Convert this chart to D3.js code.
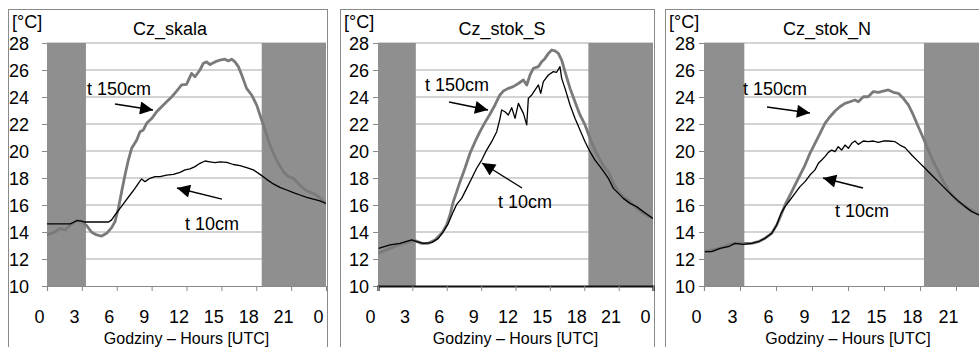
<!DOCTYPE html>
<html>
<head>
<meta charset="utf-8">
<script src="https://cdn.jsdelivr.net/npm/d3@7"></script>
<style>
  html, body { margin: 0; padding: 0; background: #fff; }
  svg { display: block; }
  text { font-family: "Liberation Sans", Arial, sans-serif; fill: #000; }
</style>
</head>
<body>
<svg id="chart" width="979" height="347"></svg>
<script>
// Air temperature at 150 cm and 10 cm, three sites, one day (hour UTC, °C)
const panelTitles = ["Cz_skala", "Cz_stok_S", "Cz_stok_N"];
const xTickValues = [0, 3, 6, 9, 12, 15, 18, 21, 24];
const xTickLabels = ["0", "3", "6", "9", "12", "15", "18", "21", "0"];
const yTickValues = [10, 12, 14, 16, 18, 20, 22, 24, 26, 28];
const xAxisTitle = "Godziny \u2013 Hours [UTC]";
const unitLabel = "[\u00b0C]";
const seriesLabels = ["t 150cm", "t 10cm"];

// night (before sunrise / after sunset) intervals, hours
const nightSkala = [[0, 3.35], [18.47, 24]];
const nightStokS = [[0, 3.3], [18.36, 24]];
const nightStokN = [[0, 3.36], [18.33, 24]];

const skalaT150 = [
  [0, 13.8], [0.69, 14.0], [1.12, 14.27], [1.55, 14.15], [1.98, 14.5], [2.55, 14.86],
  [2.98, 14.77], [3.41, 14.47], [3.84, 13.98], [4.27, 13.78], [4.7, 13.7], [5.13, 13.9],
  [5.56, 14.32], [5.85, 14.77], [6.14, 15.75], [6.42, 16.99], [6.71, 18.22], [7.0, 19.33],
  [7.28, 20.2], [7.71, 20.8], [8.0, 21.43], [8.29, 21.56], [8.57, 22.05], [9.0, 22.4],
  [9.43, 22.9], [9.86, 23.28], [10.29, 23.65], [10.72, 24.0], [11.15, 24.44], [11.58, 24.9],
  [12.0, 24.94], [12.44, 25.75], [12.73, 25.5], [13.16, 26.0], [13.45, 26.5], [13.73, 26.6],
  [14.02, 26.4], [14.45, 26.6], [14.88, 26.74], [15.31, 26.8], [15.6, 26.67], [15.88, 26.8],
  [16.17, 26.6], [16.46, 26.25], [16.75, 25.63], [17.17, 24.64], [17.6, 24.15], [18.04, 23.4],
  [18.32, 22.67], [18.61, 21.93], [18.9, 21.19], [19.18, 20.44], [19.47, 19.83], [19.9, 19.09],
  [20.33, 18.47], [20.76, 18.1], [21.19, 17.98], [21.62, 17.6], [22.05, 17.23], [22.48, 16.99],
  [22.91, 16.86], [23.34, 16.62], [23.77, 16.3], [24, 16.12]
];
const skalaT10 = [
  [0, 14.6], [2.0, 14.6], [2.6, 14.85], [3.0, 14.8], [3.2, 14.74], [5.3, 14.74],
  [5.56, 14.9], [5.85, 15.26], [6.28, 15.75], [6.71, 16.25], [7.14, 16.74], [7.57, 17.23],
  [7.86, 17.6], [8.14, 17.93], [8.43, 17.73], [8.86, 17.98], [9.29, 18.1], [9.72, 18.1],
  [10.29, 18.22], [10.87, 18.27], [11.44, 18.42], [11.87, 18.6], [12.3, 18.67], [12.73, 18.84],
  [13.16, 19.09], [13.59, 19.26], [14.02, 19.2], [14.45, 19.14], [14.88, 19.2], [15.45, 19.16],
  [16.03, 19.0], [16.6, 18.91], [17.17, 18.77], [17.75, 18.6], [18.32, 18.27], [18.9, 17.9],
  [19.47, 17.56], [20.04, 17.31], [20.62, 17.11], [21.19, 16.91], [21.76, 16.74], [22.34, 16.57],
  [22.91, 16.44], [23.48, 16.3], [24, 16.12]
];

const stokST150 = [
  [0.05, 12.42], [1.05, 12.79], [1.92, 13.09], [2.79, 13.28], [3.23, 13.36], [3.81, 13.16],
  [4.39, 13.16], [4.97, 13.41], [5.56, 13.9], [5.99, 14.52], [6.28, 15.26], [6.57, 16.25],
  [6.87, 16.99], [7.16, 17.73], [7.59, 18.72], [8.03, 19.83], [8.47, 20.69], [8.9, 21.43],
  [9.34, 22.12], [9.77, 22.72], [10.21, 23.41], [10.64, 24.15], [10.94, 24.44], [11.37, 24.64],
  [11.8, 24.77], [12.25, 25.0], [12.69, 25.26], [12.98, 24.89], [13.27, 25.63], [13.56, 26.12],
  [14.0, 26.25], [14.29, 26.62], [14.58, 26.86], [14.87, 27.23], [15.16, 27.48], [15.45, 27.41],
  [15.74, 27.23], [16.03, 26.74], [16.32, 25.88], [16.76, 24.64], [17.19, 23.65], [17.63, 22.67],
  [18.07, 21.93], [18.5, 20.94], [18.94, 20.07], [19.38, 19.33], [19.81, 18.72], [20.1, 18.47],
  [20.54, 17.6], [20.98, 16.99], [21.41, 16.62], [21.99, 16.25], [22.57, 15.75], [23.15, 15.38],
  [24, 15.0]
];
const stokST10 = [
  [0.05, 12.79], [1.05, 13.04], [1.92, 13.16], [2.94, 13.41], [3.37, 13.28], [3.96, 13.16],
  [4.68, 13.21], [5.27, 13.53], [5.7, 14.02], [6.14, 14.64], [6.57, 15.51], [6.87, 16.05],
  [7.3, 16.49], [7.74, 17.23], [8.18, 17.98], [8.61, 18.72], [9.05, 19.33], [9.48, 20.07],
  [9.92, 20.69], [10.36, 21.43], [10.65, 22.42], [10.79, 23.04], [11.08, 22.91], [11.37, 22.67],
  [11.67, 23.21], [11.96, 22.42], [12.25, 23.53], [12.69, 22.79], [12.98, 21.93], [13.12, 23.9],
  [13.42, 24.15], [13.71, 24.52], [14.0, 24.89], [14.2, 24.27], [14.43, 25.14], [14.87, 25.63],
  [15.3, 25.88], [15.59, 25.83], [15.88, 26.25], [16.03, 25.38], [16.32, 24.64], [16.76, 23.41],
  [17.19, 22.42], [17.63, 21.56], [18.07, 20.69], [18.5, 19.95], [18.94, 19.33], [19.38, 18.84],
  [19.81, 18.35], [20.1, 17.98], [20.54, 17.23], [20.98, 16.86], [21.41, 16.49], [21.99, 16.12],
  [22.57, 15.88], [23.15, 15.51], [24, 15.0]
];

const stokNT150 = [
  [0.08, 12.54], [0.64, 12.67], [1.33, 12.79], [2.03, 13.04], [2.58, 13.16], [3.28, 13.16],
  [3.97, 13.16], [4.53, 13.28], [5.08, 13.53], [5.64, 13.9], [6.06, 14.52], [6.42, 15.26],
  [6.75, 16.0], [7.17, 16.74], [7.58, 17.48], [8.0, 18.22], [8.42, 18.96], [8.83, 19.83],
  [9.25, 20.57], [9.67, 21.31], [10.08, 22.05], [10.5, 22.54], [10.92, 22.96], [11.33, 23.28],
  [11.75, 23.53], [12.17, 23.65], [12.58, 23.78], [12.86, 23.65], [13.28, 24.02], [13.69, 24.02],
  [14.11, 24.4], [14.53, 24.35], [14.94, 24.44], [15.36, 24.52], [15.78, 24.35], [16.19, 24.27],
  [16.61, 23.9], [17.03, 23.41], [17.44, 22.67], [17.86, 21.8], [18.28, 20.94], [18.69, 20.07],
  [19.11, 19.21], [19.53, 18.47], [19.94, 17.73], [20.36, 17.11], [20.78, 16.62], [21.19, 16.25],
  [21.61, 16.0], [22.03, 15.75], [22.44, 15.56], [22.92, 15.26], [24, 15.0]
];
const stokNT10 = [
  [0.08, 12.54], [0.64, 12.54], [1.33, 12.79], [2.03, 12.91], [2.58, 13.16], [3.28, 13.09],
  [3.97, 13.16], [4.53, 13.28], [5.08, 13.53], [5.64, 13.9], [6.06, 14.52], [6.42, 15.38],
  [6.75, 15.88], [7.17, 16.37], [7.58, 16.86], [8.0, 17.36], [8.42, 17.73], [8.83, 18.22],
  [9.25, 18.6], [9.53, 19.09], [9.81, 19.33], [10.08, 19.58], [10.36, 19.9], [10.64, 20.07],
  [10.92, 19.95], [11.19, 20.32], [11.47, 20.07], [11.75, 20.44], [12.03, 20.2], [12.31, 20.57],
  [12.58, 20.74], [12.86, 20.49], [13.28, 20.74], [13.69, 20.69], [14.11, 20.74], [14.53, 20.64],
  [14.94, 20.74], [15.36, 20.74], [15.92, 20.69], [16.33, 20.44], [16.75, 20.25], [17.31, 19.7],
  [17.86, 19.21], [18.42, 18.72], [18.97, 18.22], [19.53, 17.73], [20.08, 17.23], [20.64, 16.74],
  [21.19, 16.3], [21.75, 15.88], [22.31, 15.51], [22.92, 15.26], [24, 15.1]
];

// label anchors and arrows in data units: [hour, °C]
const labelsSkala = { t150: [3.44, 24.15], t10: [11.87, 14.15] };
const arrowsSkala = [[[5.85, 23.48], [9.12, 23.04]], [[15.05, 16.44], [11.18, 17.26]]];
const labelsStokS = { t150: [4.1, 24.44], t10: [10.47, 15.78] };
const arrowsStokS = [[[6.2, 23.63], [9.6, 23.04]], [[12.57, 17.26], [9.08, 19.11]]];
const labelsStokN = { t150: [3.25, 24.15], t10: [10.92, 15.11] };
const arrowsStokN = [[[5.25, 23.26], [8.83, 22.81]], [[13.25, 17.26], [9.92, 18.0]]];

const panels = [
  { title: panelTitles[0], box: [8, 9, 327], plot: [47, 326], yLabelGap: 13,
    night: nightSkala, t150: skalaT150, t10: skalaT10, labels: labelsSkala, arrows: arrowsSkala, axisDark: false },
  { title: panelTitles[1], box: [340, 9, 654], plot: [378, 653], yLabelGap: 4,
    night: nightStokS, t150: stokST150, t10: stokST10, labels: labelsStokS, arrows: arrowsStokS, axisDark: true },
  { title: panelTitles[2], box: [665, 9, 1010], plot: [704, 992], yLabelGap: 4,
    night: nightStokN, t150: stokNT150, t10: stokNT10, labels: labelsStokN, arrows: arrowsStokN, axisDark: false }
];

const plotTop = 43, plotBottom = 286;
const svg = d3.select("#chart");

const defs = svg.append("defs");
defs.append("marker")
  .attr("id", "head")
  .attr("viewBox", "0 0 10 10")
  .attr("refX", 10).attr("refY", 5)
  .attr("markerUnits", "userSpaceOnUse")
  .attr("markerWidth", 16).attr("markerHeight", 13)
  .attr("orient", "auto")
  .append("path").attr("d", "M0,0 L10,5 L0,10 Z").attr("fill", "#000");

panels.forEach((p, i) => {
  const g = svg.append("g");
  const x = d3.scaleLinear().domain([0, 24]).range(p.plot);
  const y = d3.scaleLinear().domain([10, 28]).range([plotBottom, plotTop]);

  g.append("clipPath").attr("id", "clip" + i)
    .append("rect").attr("x", p.plot[0]).attr("y", plotTop - 2)
    .attr("width", p.plot[1] - p.plot[0]).attr("height", plotBottom - plotTop + 4);

  // panel frame
  g.append("rect")
    .attr("x", p.box[0] + 0.5).attr("y", p.box[1] + 0.5)
    .attr("width", p.box[2] - p.box[0]).attr("height", 400)
    .attr("fill", "#fff").attr("stroke", "#8a8a8a").attr("stroke-width", 1);

  // horizontal gridlines
  g.append("g").selectAll("line").data(yTickValues.slice(1)).join("line")
    .attr("x1", p.plot[0]).attr("x2", p.plot[1])
    .attr("y1", d => y(d)).attr("y2", d => y(d))
    .attr("stroke", "#c4c4c4").attr("stroke-width", 1.6);

  // night shading
  g.append("g").selectAll("rect").data(p.night).join("rect")
    .attr("x", d => x(d[0])).attr("width", d => x(d[1]) - x(d[0]))
    .attr("y", y(28)).attr("height", y(10) - y(28))
    .attr("fill", "#8f8f8f");

  // y axis
  const yAxis = d3.axisLeft(y).tickValues(yTickValues).tickSize(5).tickPadding(p.yLabelGap);
  const ya = g.append("g").attr("transform", `translate(${p.plot[0]},0)`).call(yAxis);
  ya.select(".domain").remove();
  ya.selectAll(".tick line").attr("stroke", "#8a8a8a");
  ya.selectAll(".tick text").attr("font-size", 18).attr("font-family", "Liberation Sans, Arial, sans-serif")
    .attr("fill", "#000").attr("dy", "0.36em");

  // x axis
  const xAxis = d3.axisBottom(x).tickValues(xTickValues).tickSize(5)
    .tickFormat((d, k) => xTickLabels[k]).tickPadding(19);
  const xa = g.append("g").attr("transform", `translate(0,${plotBottom})`).call(xAxis);
  xa.select(".domain").attr("stroke", p.axisDark ? "#111" : "#8a8a8a")
    .attr("stroke-width", p.axisDark ? 2.2 : 1.2);
  xa.selectAll(".tick line").attr("stroke", "#8a8a8a");
  xa.selectAll(".tick text").attr("font-size", 18).attr("font-family", "Liberation Sans, Arial, sans-serif")
    .attr("fill", "#000").attr("dx", -8);

  // lines
  const line = d3.line().x(d => x(d[0])).y(d => y(d[1]));
  const lines = g.append("g").attr("clip-path", `url(#clip${i})`);
  lines.append("path").datum(p.t150).attr("d", line)
    .attr("fill", "none").attr("stroke", "#7a7a7a").attr("stroke-width", 2.8)
    .attr("stroke-linejoin", "round");
  lines.append("path").datum(p.t10).attr("d", line)
    .attr("fill", "none").attr("stroke", "#000").attr("stroke-width", 1.3)
    .attr("stroke-linejoin", "round");

  // series labels and arrows
  g.append("text").attr("x", x(p.labels.t150[0])).attr("y", y(p.labels.t150[1]))
    .attr("font-size", 18).text(seriesLabels[0]);
  g.append("text").attr("x", x(p.labels.t10[0])).attr("y", y(p.labels.t10[1]))
    .attr("font-size", 18).text(seriesLabels[1]);
  g.append("g").selectAll("line").data(p.arrows).join("line")
    .attr("x1", d => x(d[0][0])).attr("y1", d => y(d[0][1]))
    .attr("x2", d => x(d[1][0])).attr("y2", d => y(d[1][1]))
    .attr("stroke", "#000").attr("stroke-width", 1.4)
    .attr("marker-end", "url(#head)");

  // titles
  g.append("text").attr("x", p.box[0] + 4).attr("y", 28).attr("font-size", 18).text(unitLabel);
  g.append("text").attr("x", p.box[0] + 162).attr("y", 35).attr("font-size", 18)
    .attr("text-anchor", "middle").text(p.title);
  g.append("text").attr("x", (p.plot[0] + p.plot[1]) / 2).attr("y", 344).attr("font-size", 16)
    .attr("text-anchor", "middle").text(xAxisTitle);
});
</script>
</body>
</html>
